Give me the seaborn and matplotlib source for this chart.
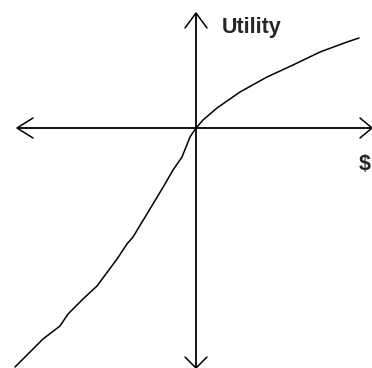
import matplotlib
matplotlib.use("Agg")
import matplotlib.pyplot as plt
import seaborn as sns
import pandas as pd

# Utility curve (dollars vs utility)
dollars = [-181, -166, -153, -136, -128, -113, -99, -79, -69, -63, -43, -31, -23, -14, -6, 0,
           7, 21, 44, 71, 97, 124, 151, 163]
utility = [-239, -224, -211, -198, -186, -171, -158, -131, -116, -109, -76, -56, -42, -29, -9, 0,
           8, 20, 36, 51, 63, 76, 86, 90]

df = pd.DataFrame({"dollars": dollars, "utility": utility})

sns.set_style("white")
plt.rcParams['font.family'] = ['Liberation Sans', 'DejaVu Sans']

fig = plt.figure(figsize=(3.72, 3.68), dpi=100)
ax = fig.add_axes([0, 0, 1, 1])
ax.set_xlim(-196, 176)
ax.set_ylim(-240, 128)
ax.axis("off")

# axes lines
ax.plot([-179, 176], [0, 0], color="black", lw=1.3, solid_capstyle="butt")
ax.plot([0, 0], [115, -240], color="black", lw=1.3, solid_capstyle="butt")
# arrowheads (open V)
ax.plot([-163, -179, -163], [10, 0, -10], color="black", lw=1.1)
ax.plot([164, 176, 164], [10, 0, -10], color="black", lw=1.1)
ax.plot([-11, 0, 11], [100, 115, 100], color="black", lw=1.1)
ax.plot([-11, 0, 11], [-229, -240, -229], color="black", lw=1.1)

sns.lineplot(data=df, x="dollars", y="utility", sort=False, color="black",
             lw=1.1, ax=ax, estimator=None)
ax.set_xlabel("")
ax.set_ylabel("")
ax.axis("off")

ax.text(26, 95, "Utility", fontsize=15.5, fontweight="bold", ha="left", va="baseline")
ax.text(163, -42, "$", fontsize=15.5, fontweight="bold", ha="left", va="baseline")

fig.savefig("out.png", dpi=100)
